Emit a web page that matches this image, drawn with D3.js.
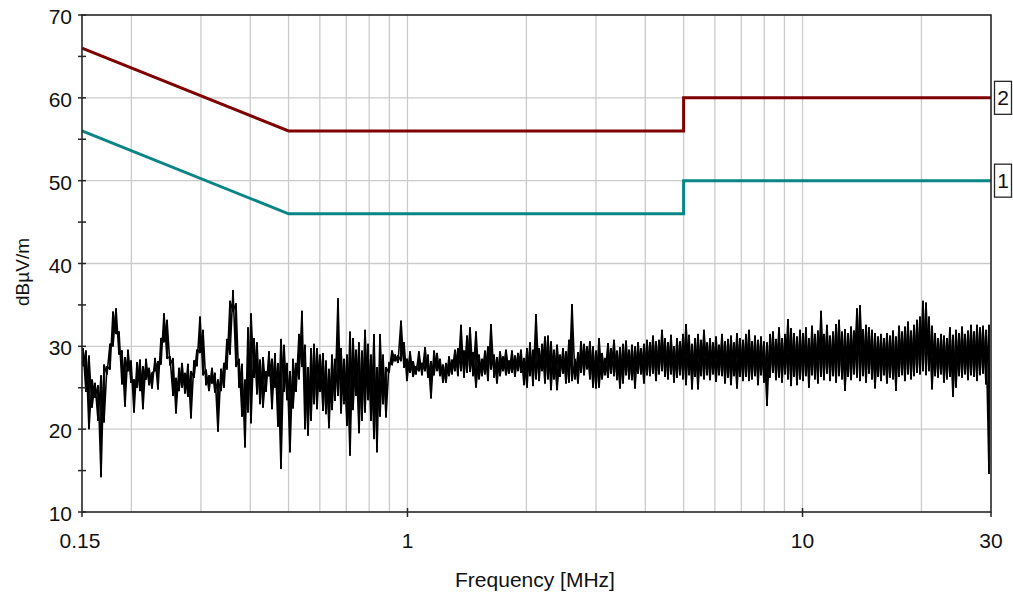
<!DOCTYPE html>
<html><head><meta charset="utf-8">
<script src="https://cdn.jsdelivr.net/npm/d3@7"></script>
<style>html,body{margin:0;padding:0;background:#fff;} svg{display:block;} text{font-family:"Liberation Sans",Arial,sans-serif;fill:#111;}</style>
</head><body><svg id="c" width="1013" height="597"></svg>
<script>
// ---- data ----
const freqs = [
0.1509,0.1535,0.1562,0.1590,0.1618,0.1647,0.1676,0.1705,0.1735,0.1766,
0.1797,0.1829,0.1861,0.1894,0.1927,0.1961,0.1996,0.2031,0.2067,0.2103,
0.2140,0.2178,0.2217,0.2256,0.2296,0.2336,0.2377,0.2419,0.2462,0.2505,
0.2550,0.2594,0.2640,0.2687,0.2734,0.2782,0.2831,0.2881,0.2932,0.2984,
0.3037,0.3090,0.3145,0.3200,0.3257,0.3314,0.3372,0.3432,0.3492,0.3554,
0.3617,0.3681,0.3746,0.3812,0.3879,0.3947,0.4017,0.4088,0.4160,0.4233,
0.4308,0.4384,0.4461,0.4540,0.4620,0.4701,0.4784,0.4869,0.4955,0.5042,
0.5131,0.5222,0.5314,0.5407,0.5503,0.5600,0.5699,0.5799,0.5901,0.6006,
0.6112,0.6219,0.6329,0.6441,0.6554,0.6670,0.6787,0.6907,0.7029,0.7153,
0.7279,0.7408,0.7538,0.7671,0.7807,0.7944,0.8084,0.8227,0.8372,0.8520,
0.8670,0.8823,0.8979,0.9137,0.9299,0.9462,0.9629,0.9799,0.9972,1.015,
1.033,1.051,1.069,1.088,1.108,1.127,1.147,1.167,1.188,1.209,
1.230,1.252,1.274,1.296,1.319,1.342,1.366,1.390,1.415,1.440,
1.465,1.491,1.517,1.544,1.571,1.599,1.627,1.656,1.685,1.715,
1.745,1.776,1.807,1.839,1.871,1.904,1.938,1.972,2.007,2.042,
2.079,2.115,2.153,2.191,2.229,2.268,2.308,2.349,2.391,2.433,
2.476,2.519,2.564,2.609,2.655,2.702,2.749,2.798,2.847,2.897,
2.949,3.001,3.054,3.108,3.162,3.218,3.275,3.333,3.391,3.451,
3.512,3.574,3.637,3.701,3.767,3.833,3.901,3.969,4.039,4.111,
4.183,4.257,4.332,4.409,4.486,4.565,4.646,4.728,4.811,4.896,
4.983,5.071,5.160,5.251,5.344,5.438,5.534,5.631,5.731,5.832,
5.935,6.039,6.146,6.254,6.365,6.477,6.591,6.707,6.826,6.946,
7.069,7.193,7.320,7.449,7.581,7.714,7.850,7.989,8.130,8.273,
8.419,8.568,8.719,8.873,9.029,9.188,9.350,9.515,9.683,9.854,
10.03,10.20,10.38,10.57,10.75,10.94,11.14,11.33,11.53,11.74,
11.95,12.16,12.37,12.59,12.81,13.04,13.27,13.50,13.74,13.98,
14.23,14.48,14.73,14.99,15.26,15.53,15.80,16.08,16.36,16.65,
16.95,17.24,17.55,17.86,18.17,18.49,18.82,19.15,19.49,19.83,
20.18,20.54,20.90,21.27,21.65,22.03,22.42,22.81,23.21,23.62,
24.04,24.46,24.90,25.34,25.78,26.24,26.70,27.17,27.65,28.14,
28.63,29.14,29.65];
const traceHi = [
29.8,29.5,28.9,26.0,25.6,25.3,26.5,27.8,27.6,30.3,
34.2,34.6,31.8,29.5,28.7,29.6,28.3,26.0,28.1,28.4,
27.6,28.5,27.4,26.8,28.6,28.2,31.0,34.0,33.2,28.8,
28.6,26.2,27.4,28.0,26.8,27.9,27.0,28.3,29.6,33.6,
32.0,27.2,26.5,27.4,26.8,26.0,27.3,28.0,30.9,35.5,
36.8,35.2,28.5,27.9,26.0,32.3,34.0,31.0,30.5,28.4,
28.7,27.0,29.4,28.5,29.2,28.0,30.9,30.2,28.0,27.0,
28.5,28.0,31.5,34.3,30.2,27.5,29.8,30.3,29.8,29.0,
29.2,28.3,27.3,29.0,28.5,35.8,29.8,28.5,29.0,31.8,
31.0,29.6,30.5,29.5,32.0,30.3,29.0,31.5,27.5,31.5,
29.0,27.5,28.0,29.5,29.0,28.9,33.1,30.5,28.5,29.4,
28.2,27.6,29.4,28.0,29.9,29.0,28.2,29.5,29.2,28.5,
27.8,28.0,28.8,28.4,29.6,29.8,32.6,29.5,31.3,32.3,
29.3,31.8,29.0,28.5,29.5,30.0,32.7,29.0,28.7,29.4,
28.8,29.6,28.3,29.5,28.9,29.2,29.6,28.6,29.8,30.5,
29.6,33.9,29.8,30.3,31.2,31.3,30.6,29.6,30.2,29.0,
29.8,29.4,30.8,35.1,28.5,29.3,30.6,30.3,30.0,30.6,
30.0,29.5,31.0,29.2,28.6,30.4,29.8,30.8,29.5,29.9,
30.3,30.7,29.6,30.2,30.0,30.5,29.8,30.3,30.8,30.5,
31.3,30.6,30.8,32.0,31.0,30.5,31.4,30.0,31.0,30.6,
31.5,32.7,31.4,30.3,31.0,31.5,30.8,32.0,30.5,31.0,
30.5,31.2,30.2,31.5,30.6,30.9,31.3,30.5,31.6,31.0,
30.8,31.5,32.0,30.6,31.3,30.8,31.2,30.6,30.5,31.5,
31.8,30.9,32.3,31.0,31.5,33.3,32.2,31.6,31.2,32.0,
31.6,32.3,31.0,32.5,31.5,31.9,34.3,31.5,32.6,31.3,
31.8,32.7,33.2,31.8,32.1,31.6,32.4,31.9,34.6,35.0,
32.1,32.6,32.3,32.0,31.6,31.2,31.5,31.0,31.6,31.3,
31.9,31.2,32.5,31.8,32.4,33.0,31.9,32.6,33.2,33.6,
35.5,35.3,33.6,32.5,31.6,31.0,31.5,31.3,31.0,32.3,
31.4,32.0,31.6,32.4,31.5,31.9,32.6,31.8,32.6,32.3,
32.5,32.0,32.6];
const traceLo = [
27.6,24.5,20.0,22.6,23.8,21.0,14.2,20.8,26.6,27.2,
30.0,31.5,29.0,25.4,22.7,27.0,25.6,22.0,25.0,24.6,
22.4,26.0,25.3,24.9,27.1,24.8,27.8,30.5,28.5,27.7,
24.0,21.9,24.6,25.0,24.3,23.9,21.3,26.2,27.6,29.2,
26.5,25.3,24.6,25.5,24.4,19.7,24.6,25.0,27.2,29.0,
34.2,27.5,25.0,21.5,17.8,22.0,20.7,26.2,24.2,23.0,
22.6,24.5,26.4,22.4,25.0,20.3,15.2,24.5,23.5,17.2,
22.5,24.5,26.0,27.5,20.0,19.2,21.0,23.0,22.4,24.5,
22.2,21.8,20.1,22.3,23.4,24.0,21.9,23.0,20.4,16.8,
22.3,24.0,19.5,21.0,22.0,23.5,21.0,18.8,17.2,21.5,
23.0,21.4,26.8,27.8,28.2,28.0,28.2,27.4,25.8,26.8,
26.3,26.6,27.0,26.5,27.0,26.2,23.7,26.5,27.0,26.4,
25.6,25.6,26.4,26.6,27.0,26.4,27.0,26.2,26.8,26.9,
26.4,25.0,26.0,26.4,26.6,25.8,27.2,26.2,25.5,26.4,
27.0,26.5,26.7,26.8,26.3,27.0,26.8,25.3,25.0,26.4,
25.2,26.0,25.8,27.0,25.5,26.0,24.7,26.0,24.7,26.3,
26.7,25.5,25.6,25.8,26.0,25.5,26.8,26.5,27.2,26.0,
25.0,24.9,25.0,26.0,26.5,26.2,26.7,26.4,25.9,24.9,
25.5,26.5,26.0,25.9,24.9,26.7,26.6,25.5,26.5,26.4,
26.7,25.8,26.6,27.0,26.3,26.0,26.6,25.6,26.2,26.5,
26.0,25.3,26.5,24.8,26.3,24.8,26.4,26.0,26.5,25.9,
26.6,25.7,26.5,26.4,25.5,26.2,25.3,26.4,24.9,26.3,
25.8,26.3,25.8,26.0,26.4,25.3,26.5,25.6,22.8,26.2,
26.8,25.9,26.2,25.6,26.6,26.0,25.2,26.3,25.3,26.0,
25.8,26.4,25.0,26.5,26.0,25.5,26.3,25.9,26.7,25.8,
26.4,25.6,26.4,26.0,24.6,26.3,25.9,26.6,26.2,25.8,
26.4,25.6,26.7,26.0,24.9,26.3,25.8,26.5,25.5,26.2,
26.0,24.6,26.3,26.5,25.8,26.6,26.0,26.4,26.8,26.6,
27.0,26.5,27.0,24.8,26.4,26.2,26.6,25.6,26.0,26.3,
23.9,25.0,26.4,26.2,26.6,25.9,26.5,26.3,25.8,26.5,
26.7,25.4,14.6];

const limitFreqs = [0.15, 0.5, 5, 5, 30];
const limit2Values = [66, 56, 56, 60, 60];
const limit1Values = [56, 46, 46, 50, 50];
const limitLabels = ["2", "1"];

const yTickValues = [10, 20, 30, 40, 50, 60, 70];
const yMinorValues = [15, 25, 35, 45, 55, 65];
const yGridValues = [20, 30, 40, 50, 60];
const xGridValues = [0.2,0.3,0.4,0.5,0.6,0.7,0.8,0.9,1,2,3,4,5,6,7,8,9,10,20];
const xTickValues = [0.15, 1, 10, 30];
const xTickLabels = ["0.15", "1", "10", "30"];

// ---- chart ----
const svg = d3.select("#c");
const L = 82, R = 991, T = 15, B = 512;
const x = d3.scaleLog().domain([0.15, 30]).range([L, R]);
const y = d3.scaleLinear().domain([10, 70]).range([B, T]);
const axisCol = "#262626";

const grid = svg.append("g").attr("stroke", "#cbcbcb").attr("stroke-width", 1.3);
grid.selectAll("line.v").data(xGridValues).enter().append("line")
  .attr("x1", d => x(d)).attr("x2", d => x(d)).attr("y1", T).attr("y2", B);
grid.selectAll("line.h").data(yGridValues).enter().append("line")
  .attr("x1", L).attr("x2", R).attr("y1", d => y(d)).attr("y2", d => y(d));

// measured trace: per-bin max/min, drawn as two interleaved sweeps (max->min and min->max)
const line = d3.line().x(d => x(d[0])).y(d => y(d[1]));
const sweepA = [], sweepB = [];
freqs.forEach((f, i) => {
  sweepA.push([f, traceHi[i]], [f, traceLo[i]]);
  sweepB.push([f, traceLo[i]], [f, traceHi[i]]);
});
[sweepA, sweepB].forEach(pts => {
  svg.append("path").attr("d", line(pts))
    .attr("fill", "none").attr("stroke", "#000").attr("stroke-width", 1.6)
    .attr("stroke-linejoin", "miter").attr("stroke-miterlimit", 2);
});

const limits = [
  {vals: limit2Values, color: "#7f0000", label: limitLabels[0]},
  {vals: limit1Values, color: "#0a8585", label: limitLabels[1]}
];
limits.forEach(l => {
  svg.append("path").attr("d", line(limitFreqs.map((f, i) => [f, l.vals[i]])))
    .attr("fill", "none").attr("stroke", l.color).attr("stroke-width", 3);
});

// frame
svg.append("rect").attr("x", L).attr("y", T).attr("width", R - L).attr("height", B - T)
  .attr("fill", "none").attr("stroke", axisCol).attr("stroke-width", 1.6);

// ticks
const tk = svg.append("g").attr("stroke", axisCol).attr("stroke-width", 1.5);
tk.selectAll("line.ym").data(yTickValues.concat(yMinorValues)).enter().append("line")
  .attr("x1", L - 4).attr("x2", L + 4).attr("y1", d => y(d)).attr("y2", d => y(d));
tk.selectAll("line.xt").data(xTickValues).enter().append("line")
  .attr("x1", d => x(d)).attr("x2", d => x(d))
  .attr("y1", d => (d === 0.15 || d === 30) ? B : B - 4).attr("y2", B + 5);

svg.selectAll("text.yl").data(yTickValues).enter().append("text")
  .attr("x", 72).attr("y", d => y(d) + 9).attr("text-anchor", "end")
  .attr("font-size", 21).text(d => d);
svg.selectAll("text.xl").data(xTickValues).enter().append("text")
  .attr("x", (d, i) => x(d) - (i === 0 ? 2 : 0)).attr("y", 548).attr("text-anchor", "middle")
  .attr("font-size", 21).text((d, i) => xTickLabels[i]);

svg.append("text").attr("x", 535).attr("y", 587).attr("text-anchor", "middle")
  .attr("font-size", 21).text("Frequency [MHz]");
svg.append("text").attr("transform", "translate(29,272) rotate(-90)")
  .attr("text-anchor", "middle").attr("font-size", 19).text("dBµV/m");

// limit labels
limits.forEach(l => {
  const yy = y(l.vals[l.vals.length - 1]);
  svg.append("rect").attr("x", 994.5).attr("y", yy - 16.5).attr("width", 17).attr("height", 33)
    .attr("fill", "#fff").attr("stroke", axisCol).attr("stroke-width", 1.3);
  svg.append("text").attr("x", 1003).attr("y", yy + 7.5).attr("text-anchor", "middle")
    .attr("font-size", 21).text(l.label);
});
</script></body></html>
